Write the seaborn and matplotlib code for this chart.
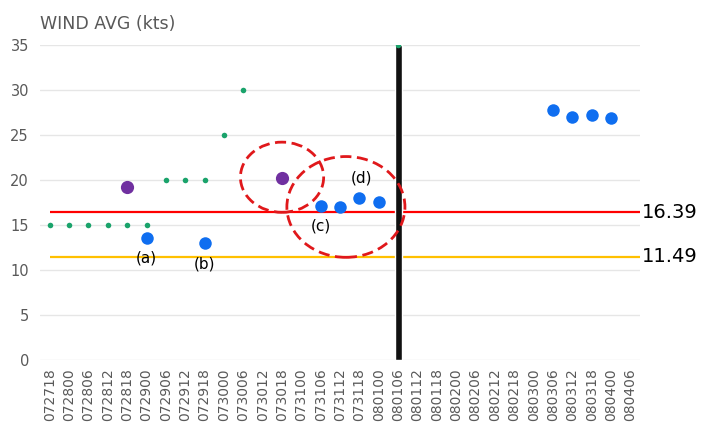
import matplotlib
matplotlib.use("Agg")
import matplotlib.pyplot as plt
from matplotlib.patches import Ellipse
import seaborn as sns

categories = ["072718", "072800", "072806", "072812", "072818", "072900", "072906",
              "072912", "072918", "073000", "073006", "073012", "073018", "073100",
              "073106", "073112", "073118", "080100", "080106", "080112", "080118",
              "080200", "080206", "080212", "080218", "080300", "080306", "080312",
              "080318", "080400", "080406"]

green_x = ["072718", "072800", "072806", "072812", "072818", "072900", "072906",
           "072912", "072918", "073000", "073006", "080106"]
green_y = [15, 15, 15, 15, 15, 15, 20, 20, 20, 25, 30, 35]

purple_x = ["072818", "073018"]
purple_y = [19.2, 20.2]

blue_x = ["072900", "072918", "073106", "073112", "073118", "080100",
          "080306", "080312", "080318", "080400"]
blue_y = [13.5, 13.0, 17.1, 17.0, 18.0, 17.6, 27.8, 27.0, 27.2, 26.9]

bar_x = ["080106"]
bar_y = [35]

mean_high = 16.39
mean_low = 11.49

sns.set_style("white")
plt.rcParams["font.family"] = ["DejaVu Sans"]

fig = plt.figure(figsize=(7.16, 4.28), dpi=100)
ax = fig.add_axes([0.056, 0.159, 0.838, 0.736])

sns.barplot(x=bar_x, y=bar_y, order=categories, width=0.36, color="#111111",
            saturation=1, ax=ax, zorder=3)
sns.stripplot(x=green_x, y=green_y, order=categories, jitter=False, size=4,
              color="#1aa36b", linewidth=0, ax=ax, zorder=4)
sns.stripplot(x=purple_x, y=purple_y, order=categories, jitter=False, size=9.5,
              color="#7030a0", linewidth=0, ax=ax, zorder=4)
sns.stripplot(x=blue_x, y=blue_y, order=categories, jitter=False, size=9,
              color="#0f6ef0", linewidth=0, ax=ax, zorder=4)

ax.hlines(mean_high, 0, len(categories) - 0.5, color="#ff0000", lw=1.6, zorder=2)
ax.hlines(mean_low, 0, len(categories) - 0.5, color="#ffc000", lw=1.6, zorder=2)
ax.text(1.003, mean_high, f"{mean_high:.2f}", transform=ax.get_yaxis_transform(),
        fontsize=14, va="center", ha="left", color="black")
ax.text(1.003, mean_low, f"{mean_low:.2f}", transform=ax.get_yaxis_transform(),
        fontsize=14, va="center", ha="left", color="black")

ax.add_patch(Ellipse((12.0, 20.3), 4.3, 7.8, fill=False, ec="#e0181b",
                     lw=2, ls=(0, (4, 2)), zorder=5))
ax.add_patch(Ellipse((15.3, 17.0), 6.1, 11.2, fill=False, ec="#e0181b",
                     lw=2, ls=(0, (4, 2)), zorder=5))

for lbl, xi, yi in [("(a)", 5, 11.3), ("(b)", 8, 10.7), ("(c)", 14, 14.9), ("(d)", 16.1, 20.2)]:
    ax.text(xi, yi, lbl, ha="center", va="center", fontsize=11, color="black", zorder=6)

ax.set_xlim(-0.5, len(categories) - 0.5)
ax.set_ylim(0, 35)
ax.set_yticks(range(0, 36, 5))
ax.yaxis.grid(True, color="#e6e6e6", lw=1)
ax.set_axisbelow(True)
for s in ax.spines.values():
    s.set_visible(False)
ax.tick_params(axis="x", labelrotation=90, labelsize=10, colors="#595959", length=0, pad=6)
ax.tick_params(axis="y", labelsize=10.5, colors="#595959", length=0, pad=8)
ax.set_xlabel("")
ax.set_ylabel("")
fig.text(0.056, 0.945, "WIND AVG (kts)", fontsize=12.5, color="#595959", ha="left", va="center")

fig.savefig("out.png", dpi=100)
